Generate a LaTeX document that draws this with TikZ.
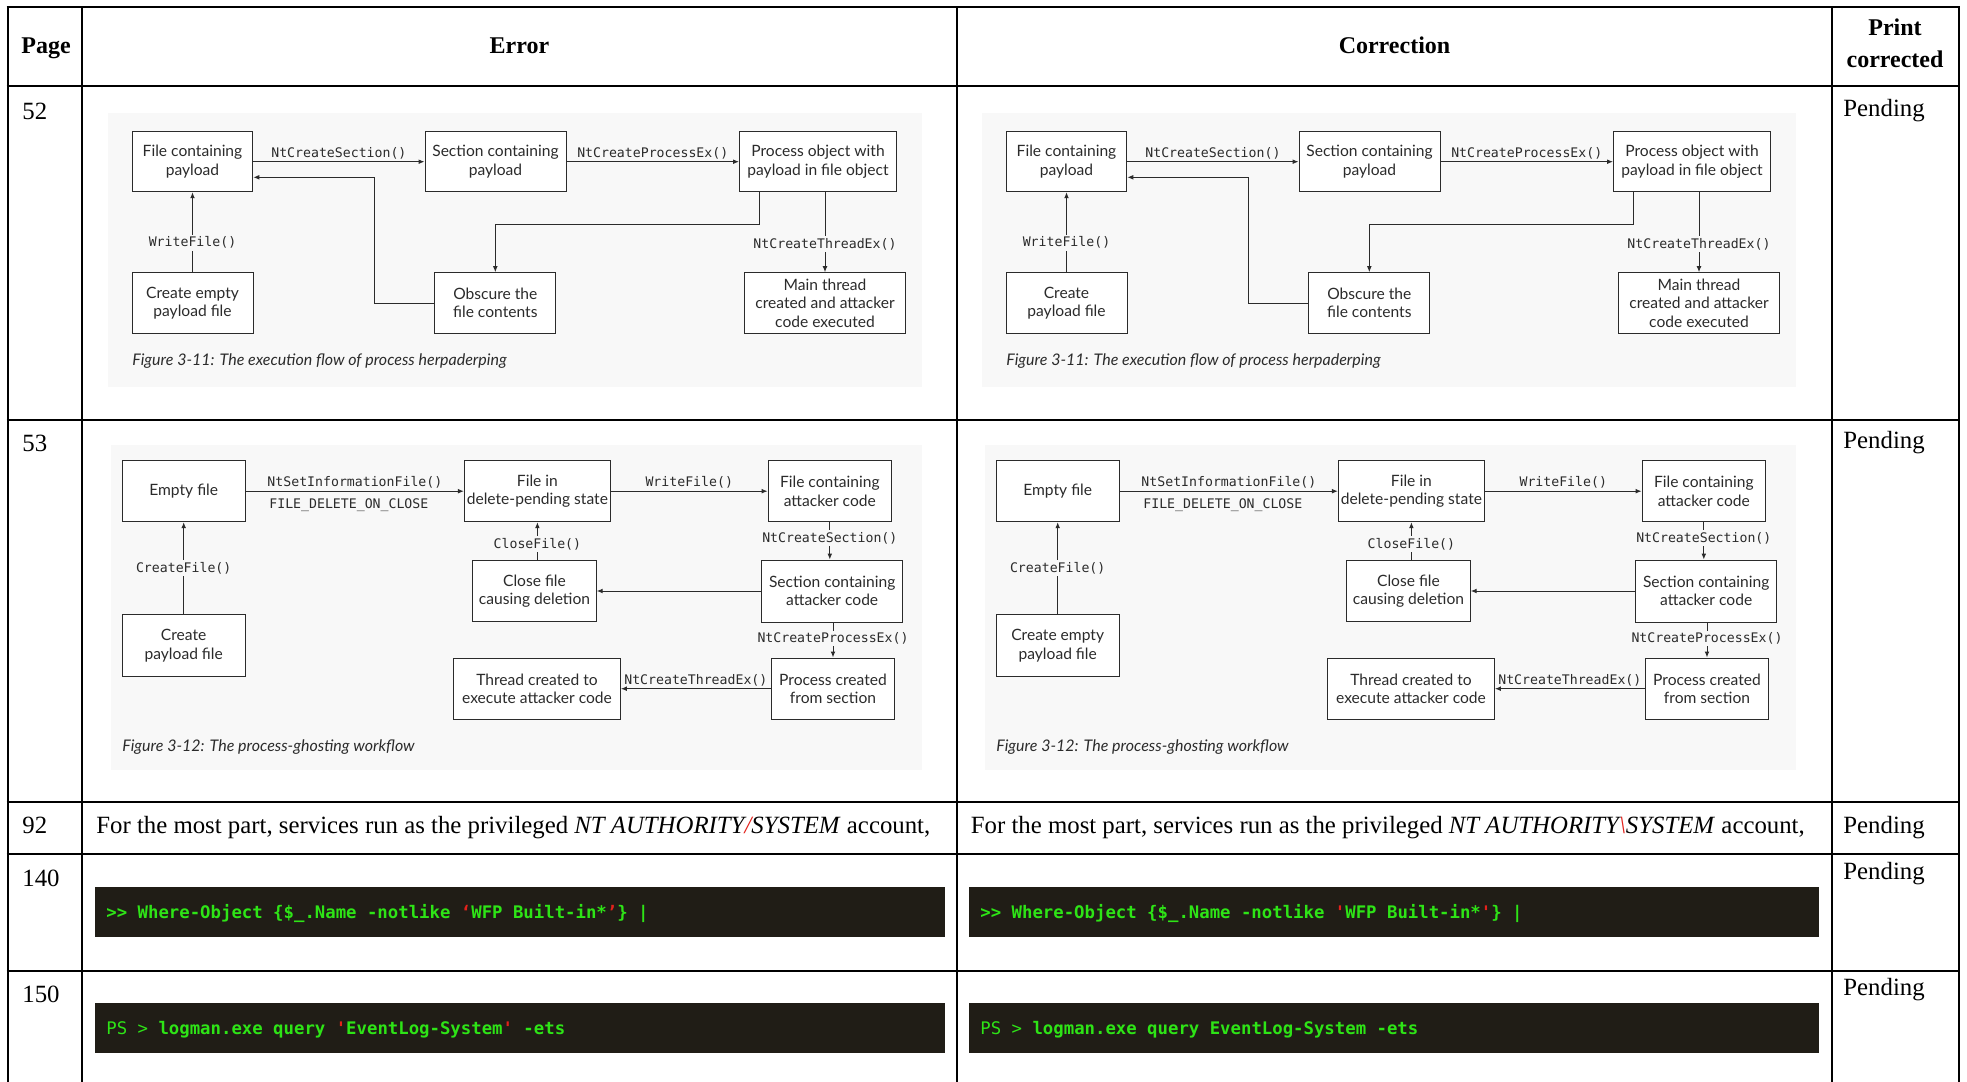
\documentclass[tikz,border=0pt]{standalone}
\usepackage{fontspec}
\setmainfont{Liberation Serif}
\setmonofont{DejaVu Sans Mono}
\newfontfamily\figfont{Lato}
\usetikzlibrary{arrows.meta}

\definecolor{codebg}{HTML}{201D16}
\definecolor{codegreen}{HTML}{2EE416}
\definecolor{markred}{HTML}{E3211B}
\definecolor{figbg}{HTML}{F8F8F8}
\definecolor{figline}{HTML}{2B2B2B}

\begin{document}
\begin{tikzpicture}[x=0.5pt, y=-0.5pt,
    rule/.style={line width=1pt},
    txt/.style={anchor=base west, inner sep=0pt, font=\fontsize{12.4}{14}\selectfont},
    headtxt/.style={anchor=base, inner sep=0pt, font=\fontsize{12}{14}\selectfont\bfseries},
    figbox/.style={draw=figline, line width=0.5pt, fill=white, align=center, inner sep=1pt,
      text=figline, font=\figfont\fontsize{7.8}{9.2}\selectfont},
    api/.style={inner sep=1pt, text=figline, font=\ttfamily\fontsize{6.6}{8}\selectfont},
    apimid/.style={api, fill=figbg},
    flow/.style={draw=figline, line width=0.5pt, -{Latex[length=3pt, width=2.4pt]}},
    figcap/.style={anchor=base west, inner sep=0pt, text=figline, font=\figfont\itshape\fontsize{8}{9}\selectfont},
    codetxt/.style={anchor=base west, inner sep=0pt, text=codegreen, font=\ttfamily\bfseries\fontsize{8.66}{10}\selectfont}]

\useasboundingbox (0,0) rectangle (1967,1082);

% table rules
\foreach \y in {7,86,420,802,854,971}
  \draw[rule] (6.5,\y) -- (1959.5,\y);
\foreach \x in {7.5,81.7,957.3,1831.7,1958.5}
  \draw[rule] (\x,7) -- (\x,1082);

% header row
\node[headtxt] (hpage) at (46,53) {Page};
\node[headtxt] (herror) at (519.5,53) {Error};
\node[headtxt] (hcorr) at (1394.5,53) {Correction};
\node[headtxt] (hprint) at (1895,35) {Print};
\node[headtxt] (hprinted) at (1895,67) {corrected};

% page numbers and status
\node[txt] (p52) at (22,119) {52};
\node[txt] (p53) at (22,451) {53};
\node[txt] (p92) at (22,833) {92};
\node[txt] (p140) at (22,886) {140};
\node[txt] (p150) at (22,1002) {150};
\node[txt] (s52) at (1843,116) {Pending};
\node[txt] (s53) at (1843,448) {Pending};
\node[txt] (s92) at (1843,833) {Pending};
\node[txt] (s140) at (1843,879) {Pending};
\node[txt] (s150) at (1843,995) {Pending};

% the two figures, once per column
\foreach \p/\dx/\ca/\cb in {e/0/{Create empty}/{Create}, c/874/{Create}/{Create empty}}{
  \begin{scope}[shift={(\dx,0)}]
    % figure 3-11
    \fill[figbg] (108,113) rectangle (922,387);
    \node[figbox, minimum width=60.3pt, minimum height=30pt] (\p-hfile) at (192.5,161.7) {File containing\\payload};
    \node[figbox, minimum width=70.5pt, minimum height=30pt] (\p-hsect) at (495.5,161.7) {Section containing\\payload};
    \node[figbox, minimum width=78.5pt, minimum height=30pt] (\p-hproc) at (818,161.7) {Process object with\\payload in file object};
    \node[figbox, minimum width=60.5pt, minimum height=30.3pt] (\p-hcreate) at (192.5,303) {\ca\\payload file};
    \node[figbox, minimum width=60.5pt, minimum height=30.3pt] (\p-hobsc) at (495.3,303) {Obscure the\\file contents};
    \node[figbox, minimum width=80.5pt, minimum height=30.3pt] (\p-hmain) at (825,303) {Main thread\\created and attacker\\code executed};
    \coordinate (\p-hbend) at (374.6,177.3);
    \coordinate (\p-hdrop) at (759,224.3);

    \draw[flow] (\p-hfile) -- (\p-hsect) node[api, midway, above] {NtCreateSection()};
    \draw[flow] (\p-hsect) -- (\p-hproc) node[api, midway, above] {NtCreateProcessEx()};
    \draw[flow] (\p-hcreate) -- (\p-hfile) node[apimid, pos=0.37] {WriteFile()};
    \draw[flow] (\p-hobsc.west) -| (\p-hbend) -- (\p-hfile.east |- \p-hbend);
    \draw[flow] (\p-hproc.south -| \p-hdrop) -- (\p-hdrop) -| (\p-hobsc.north);
    \draw[flow] (\p-hproc.south -| \p-hmain.north) -- (\p-hmain.north) node[apimid, pos=0.65] {NtCreateThreadEx()};
    \node[figcap] (\p-hcap) at (132,365) {Figure 3-11: The execution flow of process herpaderping};

    % figure 3-12
    \fill[figbg] (111,445) rectangle (922,770);
    \node[figbox, minimum width=61.7pt, minimum height=30.5pt] (\p-gempty) at (183.7,491.2) {Empty file};
    \node[figbox, minimum width=73pt, minimum height=30.5pt] (\p-gpend) at (537.4,491.2) {File in\\delete-pending state};
    \node[figbox, minimum width=61.7pt, minimum height=30.5pt] (\p-gfcode) at (829.8,491.2) {File containing\\attacker code};
    \node[figbox, minimum width=61.7pt, minimum height=30.8pt] (\p-gclose) at (534.5,591) {Close file\\causing deletion};
    \node[figbox, minimum width=70.5pt, minimum height=31pt] (\p-gsect) at (832.2,591) {Section containing\\attacker code};
    \node[figbox, minimum width=61.7pt, minimum height=31pt] (\p-gcreate) at (183.7,645.5) {\cb\\payload file};
    \node[figbox, minimum width=83.4pt, minimum height=30.7pt] (\p-gthread) at (537,688.7) {Thread created to\\execute attacker code};
    \node[figbox, minimum width=61.7pt, minimum height=30.7pt] (\p-gproc) at (833,688.7) {Process created\\from section};

    \draw[flow] (\p-gempty) -- (\p-gpend) node[api, midway, above] (\p-gset) {NtSetInformationFile()};
    \node[api, anchor=base west] (\p-gflag) at (267,508.3) {FILE\_DELETE\_ON\_CLOSE};
    \draw[flow] (\p-gpend) -- (\p-gfcode) node[api, midway, above] {WriteFile()};
    \draw[flow] (\p-gfcode.south) -- (\p-gfcode.south |- \p-gsect.north) node[apimid, pos=0.43] {NtCreateSection()};
    \draw[flow] (\p-gsect) -- (\p-gclose);
    \draw[flow] (\p-gpend.south |- \p-gclose.north) -- (\p-gpend.south) node[apimid, pos=0.41] {CloseFile()};
    \draw[flow] (\p-gsect.south -| \p-gproc.north) -- (\p-gproc.north) node[apimid, pos=0.46] {NtCreateProcessEx()};
    \draw[flow] (\p-gproc) -- (\p-gthread) node[api, midway, above] {NtCreateThreadEx()};
    \draw[flow] (\p-gcreate) -- (\p-gempty) node[apimid, midway] {CreateFile()};
    \node[figcap] (\p-gcap) at (122,751) {Figure 3-12: The process-ghosting workflow};
  \end{scope}
}

% page 92
\node[txt] (e92) at (96,833) {For the most part, services run as the privileged \textit{NT AUTHORITY\textcolor{markred}{/}SYSTEM} account,};
\node[txt] (c92) at (970.5,833) {For the most part, services run as the privileged \textit{NT AUTHORITY\textcolor{markred}{\textbackslash}SYSTEM} account,};

% page 140
\fill[codebg] (95,887) rectangle (945,937);
\fill[codebg] (969,887) rectangle (1819,937);
\node[codetxt] (e140) at (106,918) {>> Where-Object \{\$\_.Name -notlike \textcolor{markred}{‘}WFP Built-in*\textcolor{markred}{’}\} |};
\node[codetxt] (c140) at (980,918) {>> Where-Object \{\$\_.Name -notlike \textcolor{markred}{'}WFP Built-in*\textcolor{markred}{'}\} |};

% page 150
\fill[codebg] (95,1003) rectangle (945,1053);
\fill[codebg] (969,1003) rectangle (1819,1053);
\node[codetxt] (e150) at (106,1034) {\mdseries PS > \bfseries logman.exe query \textcolor{markred}{'}EventLog-System\textcolor{markred}{'} -ets};
\node[codetxt] (c150) at (980,1034) {\mdseries PS > \bfseries logman.exe query EventLog-System -ets};
\end{tikzpicture}
\end{document}
